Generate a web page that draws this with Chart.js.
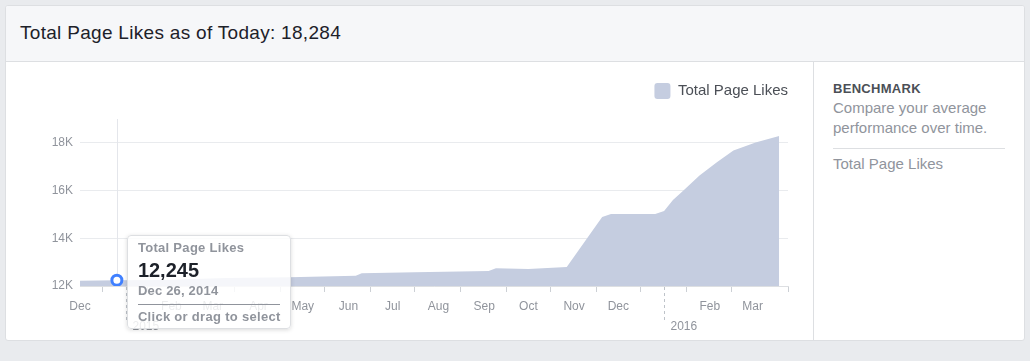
<!DOCTYPE html>
<html>
<head>
<meta charset="utf-8">
<script src="https://cdn.jsdelivr.net/npm/chart.js@4.4.1/dist/chart.umd.min.js"></script>
<style>
  body { margin: 0; width: 1030px; height: 361px; overflow: hidden; background: #e9ebee; font-family: "Liberation Sans", Arial, Helvetica, sans-serif; }
  .card { position: absolute; left: 5px; top: 5px; width: 1018px; height: 334px; background: #fff; border: 1px solid #dddfe2; border-radius: 3px; overflow: hidden; }
  .header { height: 55px; background: #f6f7f9; border-bottom: 1px solid #dddfe2; }
  .header h1 { margin: 0; padding-left: 14px; font-size: 19px; letter-spacing: 0.3px; font-weight: normal; line-height: 54px; color: #1d2129; }
  .chart-box { position: absolute; left: 0; top: 56px; width: 807px; height: 278px; }
  .side { position: absolute; left: 807px; top: 56px; width: 210px; height: 278px; border-left: 1px solid #dddfe2; padding-left: 19px; box-sizing: border-box; }
  .side .title { margin-top: 20px; font-size: 13px; letter-spacing: 0.3px; font-weight: bold; line-height: 14px; color: #4b4f56; }
  .side .desc { margin-top: 2px; font-size: 15px; line-height: 20px; color: #90949c; }
  .side hr { margin: 10px 0 0 0; width: 172px; border: 0; border-top: 1px solid #dddfe2; }
  .side .metric { margin-top: 5px; font-size: 15px; line-height: 20px; color: #90949c; }
  #tip { position: absolute; display: none; width: 142px; padding: 5px 10px 4px 10px; background: rgba(255, 255, 255, 0.82); border: 1px solid #dddfe2; border-radius: 4px; box-shadow: 0 1px 4px rgba(0, 0, 0, 0.15); pointer-events: none; white-space: nowrap; }
  #tip .t-label { font-size: 13px; letter-spacing: 0.3px; font-weight: bold; line-height: 14px; color: #90949c; }
  #tip .t-value { margin-top: 3px; font-size: 20px; font-weight: bold; line-height: 24px; color: #1d2129; }
  #tip .t-date { margin-top: 2px; font-size: 13px; letter-spacing: 0.2px; font-weight: bold; line-height: 14px; color: #90949c; }
  #tip .t-line { margin-top: 6px; border-top: 1px solid #90949c; }
  #tip .t-hint { margin-top: 5px; font-size: 13px; letter-spacing: 0.3px; font-weight: bold; line-height: 14px; color: #90949c; }
</style>
</head>
<body>
<div class="card">
  <div class="header"><h1>Total Page Likes as of Today: 18,284</h1></div>
  <div class="chart-box">
    <canvas id="likesChart" width="807" height="278"></canvas>
    <div id="tip">
      <div class="t-label">Total Page Likes</div>
      <div class="t-value"></div>
      <div class="t-date"></div>
      <div class="t-line"></div>
      <div class="t-hint">Click or drag to select</div>
    </div>
  </div>
  <div class="side">
    <div class="title">BENCHMARK</div>
    <div class="desc">Compare your average<br>performance over time.</div>
    <hr>
    <div class="metric">Total Page Likes</div>
  </div>
</div>

<script>
// data
const dates = ['2014-12-01', '2014-12-26', '2015-01-25', '2015-03-10', '2015-04-22', '2015-06-06', '2015-06-10',
    '2015-07-16', '2015-09-04', '2015-09-09', '2015-10-01', '2015-10-27', '2015-11-20', '2015-11-26',
    '2015-12-26', '2016-01-01', '2016-01-07', '2016-01-13', '2016-01-25', '2016-02-06', '2016-02-17',
    '2016-03-03', '2016-03-19'];
const likes = [12220, 12245, 12250, 12335, 12365, 12430, 12535,
    12575, 12630, 12740, 12715, 12800, 14890, 15020,
    15015, 15145, 15605, 15940, 16630, 17200, 17680,
    18010, 18284];

// axis labels
const monthLabels = ['Dec', '', 'Feb', 'Mar', 'Apr', 'May', 'Jun', 'Jul', 'Aug', 'Sep', 'Oct', 'Nov', 'Dec', '', 'Feb', 'Mar'];
const yearLabels = ['2015', '2016'];
const yearStarts = ['2015-01-01', '2016-01-01'];
const yTicks = [12000, 14000, 16000, 18000];
const hoverIndex = 1;

const monthNames = ['Jan', 'Feb', 'Mar', 'Apr', 'May', 'Jun', 'Jul', 'Aug', 'Sep', 'Oct', 'Nov', 'Dec'];
const origin = Date.UTC(2014, 11, 1);
const dayOf = (s) => Math.round((Date.parse(s + 'T00:00:00Z') - origin) / 86400000);
const dayOfUTC = (ms) => Math.round((ms - origin) / 86400000);
const xMax = dayOf('2016-03-25');

// month labels sit on the 1st, tick marks on the 16th
const labelByDay = new Map();
monthLabels.forEach((m, i) => labelByDay.set(dayOfUTC(Date.UTC(2014, 11 + i, 1)), m));
const markDays = new Set();
for (let i = 0; i < monthLabels.length - 1; i++) markDays.add(dayOfUTC(Date.UTC(2014, 11 + i, 16)));
markDays.add(xMax);

function formatDate(s) {
    const d = new Date(s + 'T00:00:00Z');
    return `${monthNames[d.getUTCMonth()]} ${d.getUTCDate()}, ${d.getUTCFullYear()}`;
}

const grey = '#90949c';
Chart.defaults.font.family = '"Liberation Sans", Arial, Helvetica, sans-serif';
Chart.defaults.color = grey;

// extra room under the legend
const legendSpacer = {
    id: 'legendSpacer',
    beforeInit(chart) {
        const fit = chart.legend.fit;
        chart.legend.fit = function () {
            fit.bind(chart.legend)();
            this.height += 10;
        };
    }
};

// vertical line at the hovered day
const hoverLine = {
    id: 'hoverLine',
    beforeDatasetsDraw(chart) {
        const active = chart.getActiveElements();
        if (!active.length) return;
        const x = active[0].element.x;
        const {ctx, chartArea} = chart;
        ctx.save();
        ctx.strokeStyle = '#e4e6eb';
        ctx.lineWidth = 1;
        ctx.beginPath();
        ctx.moveTo(Math.round(x) + 0.5, chartArea.top);
        ctx.lineTo(Math.round(x) + 0.5, chartArea.bottom);
        ctx.stroke();
        ctx.restore();
    }
};

// dashed year dividers below the axis
const yearMarks = {
    id: 'yearMarks',
    afterDraw(chart) {
        const {ctx, chartArea, scales} = chart;
        ctx.save();
        yearStarts.forEach((s, i) => {
            const x = Math.round(scales.x.getPixelForValue(dayOf(s))) + 0.5;
            ctx.strokeStyle = '#bec3c9';
            ctx.setLineDash([3, 3]);
            ctx.beginPath();
            ctx.moveTo(x, chartArea.bottom + 1);
            ctx.lineTo(x, chartArea.bottom + 34);
            ctx.stroke();
            ctx.setLineDash([]);
            ctx.fillStyle = grey;
            ctx.font = '12px "Liberation Sans", Arial, sans-serif';
            ctx.textAlign = 'left';
            ctx.textBaseline = 'middle';
            ctx.fillText(yearLabels[i], x + 6, chartArea.bottom + 41);
        });
        ctx.restore();
    }
};

function externalTooltip(context) {
    const {tooltip} = context;
    const el = document.getElementById('tip');
    if (tooltip.opacity === 0 || !tooltip.dataPoints) {
        el.style.display = 'none';
        return;
    }
    const i = tooltip.dataPoints[0].dataIndex;
    el.querySelector('.t-value').textContent = likes[i].toLocaleString('en-US');
    el.querySelector('.t-date').textContent = formatDate(dates[i]);
    el.style.left = (tooltip.caretX + 10) + 'px';
    el.style.top = (tooltip.caretY - 45) + 'px';
    el.style.display = 'block';
}

const ctx = document.getElementById('likesChart').getContext('2d');
const chart = new Chart(ctx, {
    type: 'line',
    data: {
        datasets: [{
            label: 'Total Page Likes',
            data: dates.map((d, i) => ({x: dayOf(d), y: likes[i]})),
            backgroundColor: '#c5cde0',
            borderColor: '#c5cde0',
            borderWidth: 0,
            fill: 'start',
            tension: 0,
            pointRadius: 0,
            pointHoverRadius: 5,
            pointHoverBorderWidth: 3,
            pointHoverBorderColor: '#4080ff',
            pointHoverBackgroundColor: '#ffffff'
        }]
    },
    options: {
        responsive: false,
        animation: false,
        events: [],
        layout: { padding: { top: 21, right: 25, left: 0, bottom: 0 } },
        plugins: {
            legend: {
                position: 'top',
                align: 'end',
                labels: {
                    boxWidth: 16,
                    boxHeight: 16,
                    padding: 0,
                    useBorderRadius: true,
                    borderRadius: 3,
                    color: '#4b4f56',
                    font: { size: 15 }
                }
            },
            tooltip: {
                enabled: false,
                external: externalTooltip
            }
        },
        scales: {
            x: {
                type: 'linear',
                min: 0,
                max: xMax,
                afterFit: (scale) => { scale.height = 54; },
                afterBuildTicks: (scale) => {
                    const vals = [...labelByDay.keys(), ...markDays].sort((a, b) => a - b);
                    scale.ticks = vals.map((v) => ({value: v}));
                },
                grid: {
                    drawOnChartArea: false,
                    tickLength: 6,
                    tickColor: (c) => (c.tick && markDays.has(c.tick.value)) ? '#ccd0d5' : 'rgba(0,0,0,0)'
                },
                border: { color: '#dddfe2' },
                ticks: {
                    autoSkip: false,
                    maxRotation: 0,
                    padding: 7,
                    font: { size: 12 },
                    color: grey,
                    callback: (v) => labelByDay.get(v) || ''
                }
            },
            y: {
                min: 12000,
                max: 19000,
                afterFit: (scale) => { scale.width = 74; },
                afterBuildTicks: (scale) => {
                    scale.ticks = yTicks.map((v) => ({value: v}));
                },
                grid: { color: '#e9ebee', drawTicks: false },
                border: { display: false },
                ticks: {
                    padding: 7,
                    font: { size: 12 },
                    color: grey,
                    callback: (v) => (v / 1000) + 'K'
                }
            }
        }
    },
    plugins: [legendSpacer, hoverLine, yearMarks]
});

chart.setActiveElements([{datasetIndex: 0, index: hoverIndex}]);
chart.tooltip.setActiveElements([{datasetIndex: 0, index: hoverIndex}], {x: 0, y: 0});
chart.update();
</script>
</body>
</html>
